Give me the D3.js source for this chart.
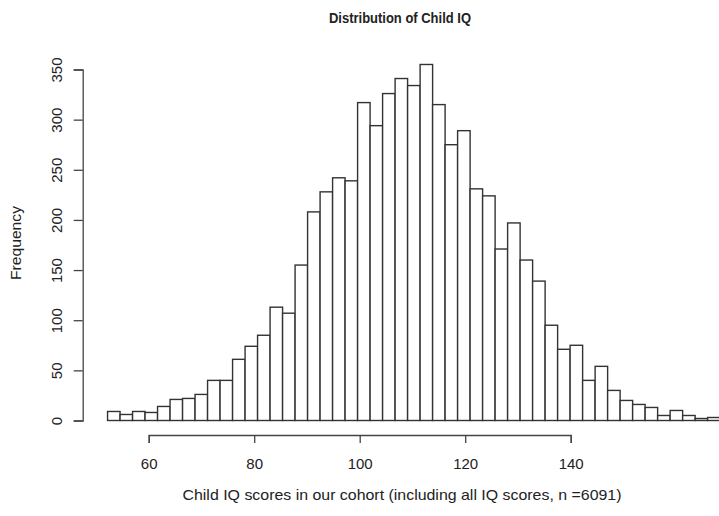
<!DOCTYPE html>
<html>
<head>
<meta charset="utf-8">
<script src="https://cdn.jsdelivr.net/npm/d3@7"></script>
<style>
  body { margin: 0; background: #fff; }
  text { font-family: "Liberation Sans", Arial, sans-serif; fill: #222; }
</style>
</head>
<body>
<div id="chart"></div>
<script>
// bin edges (IQ score) and counts per bin
const breaks = [52.20, 54.57, 56.94, 59.31, 61.68, 64.05, 66.42, 68.79, 71.16, 73.53,
                75.90, 78.27, 80.64, 83.01, 85.38, 87.75, 90.12, 92.49, 94.86, 97.23,
                99.60, 101.97, 104.34, 106.71, 109.08, 111.45, 113.82, 116.19, 118.56, 120.93,
                123.30, 125.67, 128.04, 130.41, 132.78, 135.15, 137.52, 139.89, 142.26, 144.63,
                147.00, 149.37, 151.74, 154.11, 156.48, 158.85, 161.22, 163.59, 165.96, 168.33];
const counts = [9, 6, 9, 8, 14, 21, 22, 26, 40, 40,
                61, 74, 85, 113, 107, 155, 208, 228, 242, 239,
                317, 294, 326, 341, 334, 355, 315, 275, 289, 231,
                224, 171, 197, 160, 139, 95, 71, 75, 40, 54,
                30, 20, 16, 13, 5, 10, 5, 2, 3];
const xTicks = [60, 80, 100, 120, 140];
const yTicks = [0, 50, 100, 150, 200, 250, 300, 350];

const width = 719, height = 516;

const svg = d3.select("#chart")
    .append("svg")
    .attr("width", width)
    .attr("height", height);

const x = d3.scaleLinear().domain([60, 140]).range([148.7, 570.7]);
const y = d3.scaleLinear().domain([0, 350]).range([420.5, 69.5]);

const bins = counts.map((c, i) => ({ x0: breaks[i], x1: breaks[i + 1], n: c }));

svg.append("g")
    .selectAll("rect")
    .data(bins)
    .join("rect")
    .attr("x", d => x(d.x0))
    .attr("y", d => y(d.n))
    .attr("width", d => x(d.x1) - x(d.x0))
    .attr("height", d => y(0) - y(d.n))
    .attr("fill", "#fff")
    .attr("stroke", "#333")
    .attr("stroke-width", 1.4);

// x axis
const xAxis = svg.append("g")
    .attr("transform", "translate(0,435)")
    .call(d3.axisBottom(x).tickValues(xTicks).tickSize(8).tickFormat(d3.format("d")));
xAxis.select(".domain").attr("stroke", "#444").attr("stroke-width", 1.3);
xAxis.selectAll(".tick line").attr("stroke", "#444").attr("stroke-width", 1.3);
xAxis.selectAll("text")
    .attr("font-size", 15).attr("fill", "#222")
    .attr("font-family", "Liberation Sans, Arial, sans-serif")
    .attr("y", 34).attr("dy", null);

// y axis
const yAxis = svg.append("g")
    .attr("transform", "translate(82.7,0)")
    .call(d3.axisLeft(y).tickValues(yTicks).tickSize(9).tickFormat(d3.format("d")));
yAxis.select(".domain").attr("stroke", "#444").attr("stroke-width", 1.3);
yAxis.selectAll(".tick line").attr("stroke", "#444").attr("stroke-width", 1.3);
yAxis.selectAll("text")
    .attr("font-size", 15).attr("fill", "#222")
    .attr("font-family", "Liberation Sans, Arial, sans-serif")
    .attr("text-anchor", "middle")
    .attr("dy", null)
    .attr("x", null)
    .attr("transform", "translate(-25,0) rotate(-90)")
    .attr("dominant-baseline", "middle");

svg.append("text")
    .attr("x", 400).attr("y", 23)
    .attr("text-anchor", "middle")
    .attr("font-size", 15).attr("font-weight", "bold")
    .attr("textLength", 142).attr("lengthAdjust", "spacingAndGlyphs")
    .text("Distribution of Child IQ");

svg.append("text")
    .attr("x", 402).attr("y", 500)
    .attr("text-anchor", "middle")
    .attr("font-size", 15)
    .attr("textLength", 439).attr("lengthAdjust", "spacingAndGlyphs")
    .text("Child IQ scores in our cohort (including all IQ scores, n =6091)");

svg.append("text")
    .attr("transform", "translate(21,243) rotate(-90)")
    .attr("text-anchor", "middle")
    .attr("font-size", 14.5)
    .attr("textLength", 74).attr("lengthAdjust", "spacingAndGlyphs")
    .text("Frequency");
</script>
</body>
</html>
